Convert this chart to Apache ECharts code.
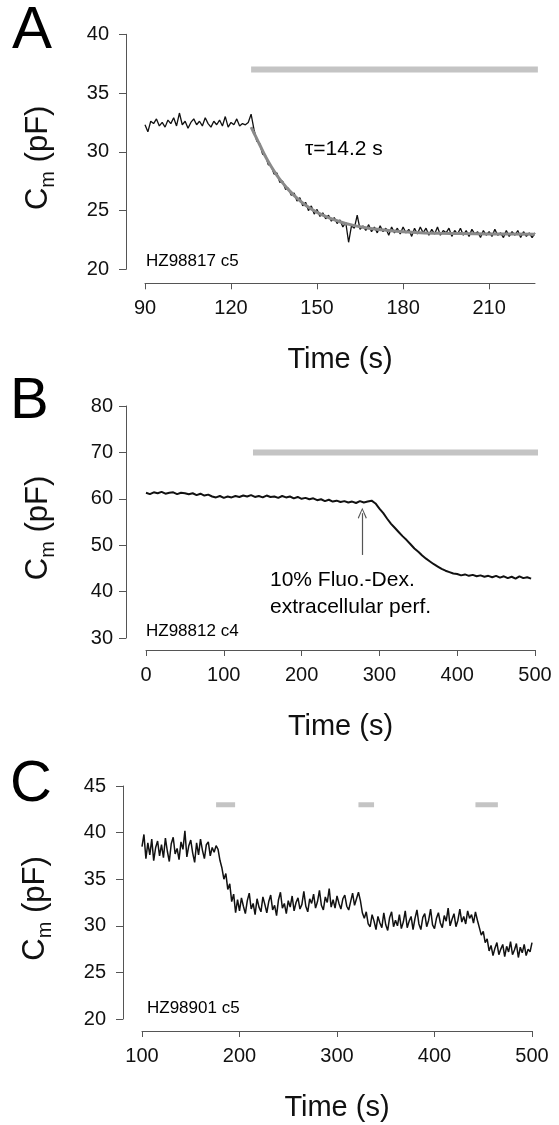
<!DOCTYPE html>
<html><head><meta charset="utf-8">
<script src="https://cdn.jsdelivr.net/npm/echarts@6/dist/echarts.min.js"></script>
<style>html,body{margin:0;padding:0;background:#fff}#c{width:559px;height:1125px}</style>
</head><body><div id="c"></div>
<script>
// ---------- Panel A ----------
const aStart = 90, aStep = 1;
const aTrace = [32.3,31.7,32.6,32.4,32.8,32.2,32.5,32.1,32.7,32.4,
 32.9,32.2,33.3,32.3,32.6,32.0,32.5,32.8,32.3,32.6,
 32.2,32.9,32.4,32.1,32.6,32.3,32.7,32.2,33.0,32.1,
 32.5,32.3,32.8,32.2,32.4,32.3,32.5,33.2,
 31.9,30.9,30.7,29.8,29.7,28.9,28.8,28.1,28.2,27.4,
 27.5,26.8,26.9,26.3,26.5,25.8,26.1,25.4,25.7,25.0,
 25.4,24.7,25.1,24.5,24.8,24.3,24.6,24.1,24.4,23.9,
 24.2,23.6,24.0,22.3,23.7,23.5,24.6,23.4,23.7,23.3,
 23.8,23.2,23.6,23.1,23.7,23.2,23.5,22.9,23.6,23.1,
 23.5,23.0,23.6,23.1,23.4,22.8,23.5,23.0,23.6,23.1,
 23.5,22.9,23.4,23.0,23.6,22.9,23.3,23.1,23.5,22.8,
 23.3,23.0,23.5,22.9,23.3,22.8,23.4,23.0,23.2,22.7,
 23.3,22.9,23.2,22.8,23.4,22.9,23.1,22.7,23.3,22.8,
 23.2,22.9,23.3,22.7,23.2,22.8,23.1,22.7,23.1];
const aFitT = [127,128,129,130,132,134,136,138,140,143,146,150,154,158,162,166,170,175,180,186,193,200,210,226];
const aFitV = [32.1,31.6,31.1,30.6,29.6,28.75,28.0,27.35,26.78,26.05,25.45,24.85,24.4,24.05,23.78,23.58,23.43,23.3,23.2,23.12,23.07,23.04,23.01,22.98];
const aBar = [[127,37],[227,37]];
const aXTicks = [90,120,150,180,210];
const aYTicks = [20,25,30,35,40];

// ---------- Panel B ----------
const bStart = 0, bStep = 5;
const bTrace = [61.3,61.0,61.4,61.2,61.5,61.1,61.3,61.4,61.0,61.3,
 61.2,61.0,61.2,60.8,61.1,60.7,60.9,60.5,60.3,60.6,
 60.2,60.5,60.3,60.6,60.4,60.7,60.5,60.8,60.4,60.6,
 60.3,60.7,60.4,60.5,60.2,60.6,60.3,60.5,60.1,60.4,
 60.0,60.2,59.9,60.1,59.7,59.9,59.5,59.8,59.4,59.6,
 59.3,59.5,59.2,59.4,59.1,59.5,59.2,59.4,59.6,59.0,
 57.9,56.9,55.7,54.6,53.7,52.8,51.9,51.1,50.2,49.3,
 48.6,47.8,47.1,46.5,45.9,45.4,44.9,44.5,44.2,43.9,
 43.8,43.5,43.7,43.4,43.6,43.3,43.5,43.2,43.4,43.1,
 43.4,43.0,43.3,42.9,43.2,42.8,43.3,42.9,43.1,42.8];
const bBar = [[137.5,70],[509,70]];
const bArrow = [[278,47.9],[278,56.9]];
const bXTicks = [0,100,200,300,400,500];
const bYTicks = [30,40,50,60,70,80];

// ---------- Panel C ----------
const cStart = 100, cStep = 2;
const cTrace = [38.5,39.8,37.2,38.9,37.6,39.3,37.0,38.4,39.1,37.5,
 38.7,37.3,39.4,38.0,36.9,38.8,39.5,37.7,38.3,37.1,
 39.0,38.2,40.2,37.4,38.6,39.2,37.8,36.8,38.9,37.6,
 39.3,38.1,37.2,38.7,39.0,37.5,38.4,37.9,38.6,38.2,
 37.0,36.2,35.0,35.6,33.9,34.5,32.6,33.4,31.4,32.8,
 31.6,33.0,32.1,31.3,32.7,33.5,31.8,32.4,31.2,32.9,
 32.0,31.5,33.1,32.3,31.4,32.6,33.3,31.7,32.2,31.1,
 32.8,33.6,31.9,32.4,31.3,32.7,32.0,33.2,31.6,32.5,
 33.0,31.8,32.3,33.7,32.1,31.5,32.9,32.4,33.4,31.9,
 32.6,33.8,32.2,31.7,33.1,32.5,34.0,32.0,32.8,31.9,
 33.2,32.4,31.8,32.9,33.3,32.1,31.7,32.6,33.5,32.2,
 32.0,33.6,32.7,31.4,30.8,31.5,30.2,29.9,31.2,30.5,
 29.6,31.0,30.3,29.8,31.4,30.1,29.5,30.9,31.5,29.9,
 30.6,30.0,31.2,29.7,30.4,31.6,29.8,30.5,31.0,29.6,
 30.8,31.7,30.2,29.6,30.9,31.3,29.9,30.6,31.8,30.1,
 29.7,30.8,31.4,30.3,29.8,31.1,30.5,31.9,30.0,30.7,
 31.3,29.9,30.6,31.8,30.4,31.0,30.2,31.6,30.8,31.2,
 30.3,31.5,30.6,29.8,29.0,29.4,28.2,28.6,27.3,27.9,
 26.8,27.6,28.2,26.9,27.5,28.0,26.7,27.8,27.2,28.3,
 26.9,27.4,28.1,26.6,27.7,27.1,28.0,26.8,27.5,27.2,
 28.2];
const cBars = [[[176,43],[195.5,43]], [[322,43],[338,43]], [[442,43],[465,43]]];
const cXTicks = [100,200,300,400,500];
const cYTicks = [20,25,30,35,40,45];

// ---------- helpers ----------
const FONT = "'Liberation Sans', Arial, Helvetica, sans-serif";
const AXIS_COLOR = '#555';
const TXT = '#111';

function toPairs(start, step, vals) { return vals.map((v, i) => [start + i * step, v]); }

function xAxisCfg(g, min, max, ticks, offset) {
  return {
    type: 'value', gridIndex: g, min: min, max: max, offset: offset,
    interval: ticks[1] - ticks[0],
    name: 'Time (s)', nameLocation: 'middle', nameGap: 62,
    nameTextStyle: { fontFamily: FONT, fontSize: 29, color: TXT },
    axisLine: { show: true, onZero: false, lineStyle: { color: AXIS_COLOR, width: 1 } },
    axisTick: { show: true, length: 6, lineStyle: { color: AXIS_COLOR, width: 1 }, customValues: ticks },
    axisLabel: { show: true, margin: 15, fontFamily: FONT, fontSize: 20, color: TXT, customValues: ticks },
    splitLine: { show: false }
  };
}
function yAxisCfg(g, ticks, offset, margin) {
  return {
    type: 'value', gridIndex: g, min: ticks[0], max: ticks[ticks.length - 1], offset: offset,
    interval: ticks[1] - ticks[0],
    name: '{c|C}{m|m}{c| (pF)}', nameLocation: 'middle', nameGap: 68,
    nameTextStyle: {
      color: TXT, fontFamily: FONT, padding: [0, 12, 0, 0],
      rich: {
        c: { fontFamily: FONT, fontSize: 31, lineHeight: 40, color: TXT },
        m: { fontFamily: FONT, fontSize: 20, lineHeight: 20, verticalAlign: 'bottom', color: TXT }
      }
    },
    axisLine: { show: true, onZero: false, lineStyle: { color: AXIS_COLOR, width: 1 } },
    axisTick: { show: true, length: 7, lineStyle: { color: AXIS_COLOR, width: 1 }, customValues: ticks },
    axisLabel: { show: true, margin: margin, fontFamily: FONT, fontSize: 20, color: TXT, customValues: ticks },
    splitLine: { show: false }
  };
}
function lineSeries(g, data, color, width, extra) {
  return Object.assign({
    type: 'line', xAxisIndex: g, yAxisIndex: g, data: data,
    showSymbol: false, symbol: 'none', silent: true, animation: false,
    lineStyle: { color: color, width: width }, z: 2
  }, extra || {});
}
function txt(x, y, text, size, align) {
  return { type: 'text', x: x, y: y, silent: true,
    style: { text: text, font: size + 'px ' + FONT, fill: '#000',
      textAlign: align || 'left', textVerticalAlign: 'middle', align: align || 'left', verticalAlign: 'middle' } };
}

const chart = echarts.init(document.getElementById('c'));
const series = [
  lineSeries(0, toPairs(aStart, aStep, aTrace), '#111', 1.3),
  lineSeries(0, aFitT.map((t, i) => [t, aFitV[i]]), '#8a8a8a', 3, { smooth: 0.3, z: 3 }),
  lineSeries(0, aBar, '#c4c4c4', 6, { clip: false, z: 3 }),
  lineSeries(1, toPairs(bStart, bStep, bTrace), '#111', 2, {
    markLine: {
      silent: true, animation: false,
      symbol: ['none', 'path://M0,0 L5,10 L4,10.8 L0,2.2 L-4,10.8 L-5,10 Z'],
      symbolSize: [9, 11],
      label: { show: false },
      lineStyle: { color: '#555', width: 1.2, type: 'solid' },
      data: [[{ coord: bArrow[0] }, { coord: bArrow[1] }]]
    }
  }),
  lineSeries(1, bBar, '#c4c4c4', 6, { clip: false, z: 3 }),
  lineSeries(2, toPairs(cStart, cStep, cTrace), '#111', 1.5)
].concat(cBars.map(b => lineSeries(2, b, '#c4c4c4', 5, { clip: false, z: 3 })));

chart.setOption({
  animation: false,
  backgroundColor: '#fff',
  grid: [
    { left: 145, top: 34.3, width: 390, height: 235 },
    { left: 146, top: 406, width: 389, height: 232 },
    { left: 142, top: 786, width: 390, height: 233 }
  ],
  xAxis: [
    xAxisCfg(0, aXTicks[0], 226, aXTicks, 14),
    xAxisCfg(1, bXTicks[0], bXTicks[bXTicks.length - 1], bXTicks, 12),
    xAxisCfg(2, cXTicks[0], cXTicks[cXTicks.length - 1], cXTicks, 12)
  ],
  yAxis: [
    yAxisCfg(0, aYTicks, 19, 17),
    yAxisCfg(1, bYTicks, 20, 13),
    yAxisCfg(2, cYTicks, 19, 17)
  ],
  series: series,
  graphic: [
    txt(12, 31.5, 'A', 60),
    txt(10, 401.5, 'B', 58),
    txt(10, 785, 'C', 58),
    txt(146, 261, 'HZ98817 c5', 17),
    txt(146, 631, 'HZ98812 c4', 17),
    txt(147, 1008.5, 'HZ98901 c5', 17),
    txt(305, 149, 'τ=14.2 s', 21),
    txt(270, 580.5, '10% Fluo.-Dex.', 21),
    txt(270, 607, 'extracellular perf.', 21)
  ]
});
</script>
</body></html>
